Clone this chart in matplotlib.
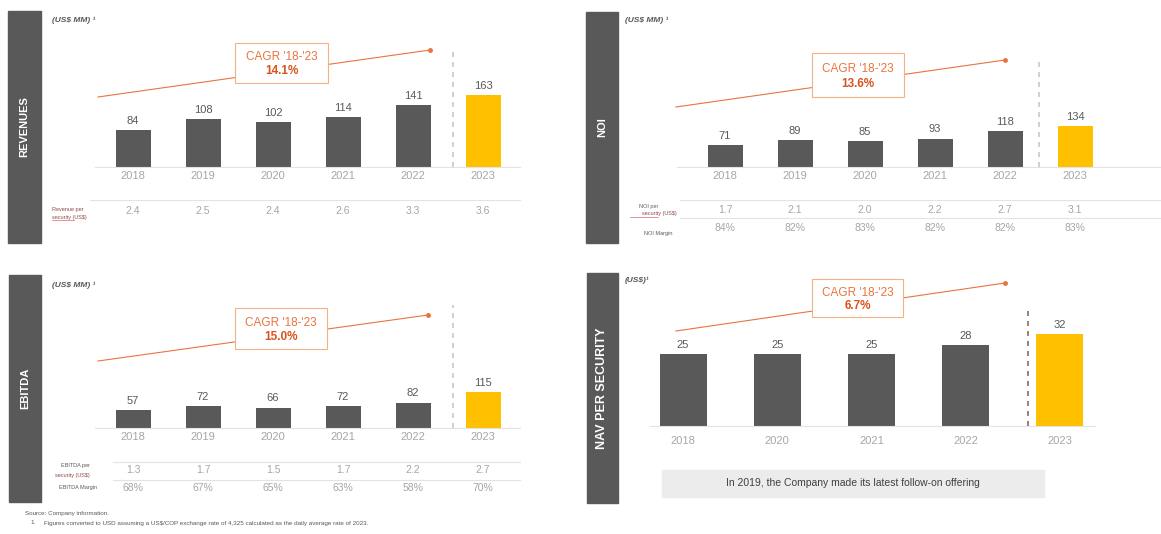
import matplotlib.pyplot as plt
from matplotlib.lines import Line2D
from matplotlib.patches import Rectangle
from matplotlib import transforms

plt.rcParams['font.family'] = ['Liberation Sans Narrow', 'Liberation Sans', 'DejaVu Sans']

years = ['2018', '2019', '2020', '2021', '2022', '2023']
revenues = [84, 108, 102, 114, 141, 163]
rev_per_sec = [2.4, 2.5, 2.4, 2.6, 3.3, 3.6]
noi = [71, 89, 85, 93, 118, 134]
noi_per_sec = [1.7, 2.1, 2.0, 2.2, 2.7, 3.1]
noi_margin = [84, 82, 83, 82, 82, 83]
ebitda = [57, 72, 66, 72, 82, 115]
ebitda_per_sec = [1.3, 1.7, 1.5, 1.7, 2.2, 2.7]
ebitda_margin = [68, 67, 65, 63, 58, 70]
nav_years = ['2018', '2020', '2021', '2022', '2023']
nav = [25, 25, 25, 28, 32]
cagr = {'REVENUES': '14.1%', 'NOI': '13.6%', 'EBITDA': '15.0%', 'NAV': '6.7%'}

W, H = 1161, 534
DARK = '#595959'
GOLD = '#FFC000'
LIGHT = '#a6a6a6'
ORANGE = '#E8743F'

fig = plt.figure(figsize=(W / 100, H / 100), dpi=100)


def fx(x):
    return x / W


def fy(y):
    return 1 - y / H


def hline(x1, x2, y, color='#e3e3e3', lw=0.8):
    fig.add_artist(Line2D([fx(x1), fx(x2)], [fy(y), fy(y)], color=color, lw=lw,
                          transform=fig.transFigure))


def side_bar(x1, y1, x2, y2, label, size=8):
    fig.add_artist(Rectangle((fx(x1), fy(y2)), fx(x2 - x1), (y2 - y1) / H,
                             color=DARK, transform=fig.transFigure))
    fig.text(fx((x1 + x2) / 2), fy((y1 + y2) / 2), label, rotation=90, color='white',
             fontsize=size, fontweight='bold', ha='center', va='center',
             family=['Liberation Sans', 'DejaVu Sans'])


def cagr_box(x1, y1, x2, y2, ax0, ay0, ax1, ay1, pct):
    fig.add_artist(Line2D([fx(ax0), fx(ax1)], [fy(ay0), fy(ay1)], color=ORANGE, lw=0.8,
                          transform=fig.transFigure, zorder=2))
    fig.add_artist(Line2D([fx(ax1)], [fy(ay1)], marker='o', ms=2.5, color=ORANGE,
                          transform=fig.transFigure, zorder=2))
    fig.add_artist(Rectangle((fx(x1), fy(y2)), fx(x2 - x1), (y2 - y1) / H,
                             facecolor='white', edgecolor='#F4B183', lw=0.8,
                             transform=fig.transFigure, zorder=3))
    cx = fx((x1 + x2) / 2)
    h = y2 - y1
    fig.text(cx, fy(y1 + h * 0.36), "CAGR '18-'23", color=ORANGE, fontsize=8.5,
             ha='center', va='center', zorder=4)
    fig.text(cx, fy(y1 + h * 0.7), pct, color='#D9531E', fontsize=8.5, fontweight='bold',
             ha='center', va='center', zorder=4)


def bar_chart(left, right, base, top, vals, labels, scale, dash_x, dash_top,
              year_y, dash_color='#c8c8c8', width=0.5):
    n = len(vals)
    ax = fig.add_axes([fx(left), fy(base), fx(right - left), (base - top) / H])
    ax.set_xlim(-0.5, n - 0.5)
    ax.set_ylim(0, (base - top) / scale)
    ax.set_axis_off()
    colors = [DARK] * (n - 1) + [GOLD]
    bars = ax.bar(range(n), vals, width=width, color=colors, zorder=2)
    for b, v in zip(bars, vals):
        ax.annotate(str(v), (b.get_x() + b.get_width() / 2, v), xytext=(0, 3),
                    textcoords='offset points', ha='center', va='bottom',
                    fontsize=8, color=DARK)
    ax.axvline(dash_x, ymin=0, ymax=(base - dash_top) / (base - top), color=dash_color,
               ls=(0, (3, 3)), lw=1.2)
    tr = transforms.blended_transform_factory(ax.transData, fig.transFigure)
    for i, y in enumerate(labels):
        ax.text(i, fy(year_y), y, transform=tr, ha='center', va='center',
                fontsize=8, color=LIGHT)
    return ax, tr


def row(ax, tr, vals, y, fmt):
    for i, v in enumerate(vals):
        ax.text(i, fy(y), fmt.format(v), transform=tr, ha='center', va='center',
                fontsize=7.5, color=LIGHT)


# ---- Revenues (top left)
side_bar(8, 11, 41, 243, 'REVENUES')
fig.text(fx(52), fy(20), '(US$ MM) ¹', fontsize=6, style='italic', fontweight='bold',
         color=DARK, va='center')
cagr_box(235, 43, 328, 83, 98, 97, 430, 50, cagr['REVENUES'])
hline(95, 520, 167)
hline(90, 520, 200)
ax, tr = bar_chart(98, 518, 167, 30, revenues, years, 0.44, 4.57, 50, 176)
row(ax, tr, rev_per_sec, 211, '{:.1f}')
fig.text(fx(52), fy(209), 'Revenue per', fontsize=4, color='#8c4a4a', va='center')
fig.text(fx(52), fy(217), 'security (US$)', fontsize=4, color='#8c4a4a', va='center')
hline(52, 74, 220, color='#e06666', lw=0.5)

# ---- NOI (top right)
side_bar(586, 12, 618, 243, 'NOI')
fig.text(fx(625), fy(20), '(US$ MM) ¹', fontsize=6, style='italic', fontweight='bold',
         color=DARK, va='center')
cagr_box(812, 53, 904, 97, 676, 107, 1005, 60, cagr['NOI'])
hline(677, 1161, 167)
hline(680, 1161, 200)
hline(680, 1161, 218)
ax, tr = bar_chart(690, 1110, 167, 30, noi, years, 0.306, 4.49, 57, 176)
row(ax, tr, noi_per_sec, 210, '{:.1f}')
row(ax, tr, noi_margin, 228, '{}%')
fig.text(fx(658), fy(206), 'NOI per', fontsize=4, color=DARK, va='center', ha='right')
fig.text(fx(677), fy(214), 'security (US$)', fontsize=4, color='#8c4a4a', va='center', ha='right')
fig.text(fx(673), fy(234), 'NOI Margin', fontsize=4, color=DARK, va='center', ha='right')
hline(630, 658, 217, color='#e06666', lw=0.5)

# ---- EBITDA (bottom left)
side_bar(9, 275, 41, 502, 'EBITDA')
fig.text(fx(52), fy(285), '(US$ MM) ¹', fontsize=6, style='italic', fontweight='bold',
         color=DARK, va='center')
cagr_box(235, 308, 327, 349, 98, 361, 428, 315, cagr['EBITDA'])
hline(95, 520, 428)
hline(113, 520, 462)
hline(113, 520, 480)
ax, tr = bar_chart(98, 518, 428, 295, ebitda, years, 0.31, 4.57, 305, 437)
row(ax, tr, ebitda_per_sec, 470, '{:.1f}')
row(ax, tr, ebitda_margin, 488, '{}%')
fig.text(fx(90), fy(465), 'EBITDA per', fontsize=4, color=DARK, va='center', ha='right')
fig.text(fx(90), fy(476), 'security (US$)', fontsize=4, color='#8c4a4a', va='center', ha='right')
fig.text(fx(97), fy(488), 'EBITDA Margin', fontsize=4, color=DARK, va='center', ha='right')

# ---- NAV per security (bottom right)
side_bar(587, 273, 618, 503, 'NAV PER SECURITY', size=9)
fig.text(fx(625), fy(280), '(US$)¹', fontsize=6, style='italic', fontweight='bold',
         color=DARK, va='center')
cagr_box(812, 279, 903, 317, 676, 331, 1005, 283, cagr['NAV'])
hline(650, 1095, 426)
ax, tr = bar_chart(636, 1107, 426, 300, nav, nav_years, 2.88, 3.66, 310, 441,
                   dash_color='#8c6a6a')
fig.add_artist(Rectangle((fx(662), fy(497)), fx(1044 - 662), 27 / H, color='#ececec',
                         transform=fig.transFigure))
fig.text(fx(853), fy(483.5), 'In 2019, the Company made its latest follow-on offering',
         fontsize=7.5, color='#404040', ha='center', va='center',
         family=['Liberation Sans', 'DejaVu Sans'])

# ---- footnotes
fig.text(fx(25), fy(514), 'Source: Company information.', fontsize=4.5, color=DARK, va='center')
fig.text(fx(30), fy(523), '1.', fontsize=4.5, color=DARK, va='center')
fig.text(fx(44), fy(523), 'Figures converted to USD assuming a US$/COP exchange rate of 4,325 '
         'calculated as the daily average rate of 2023.', fontsize=4.5, color=DARK, va='center')

fig.savefig('out.png', dpi=100)
